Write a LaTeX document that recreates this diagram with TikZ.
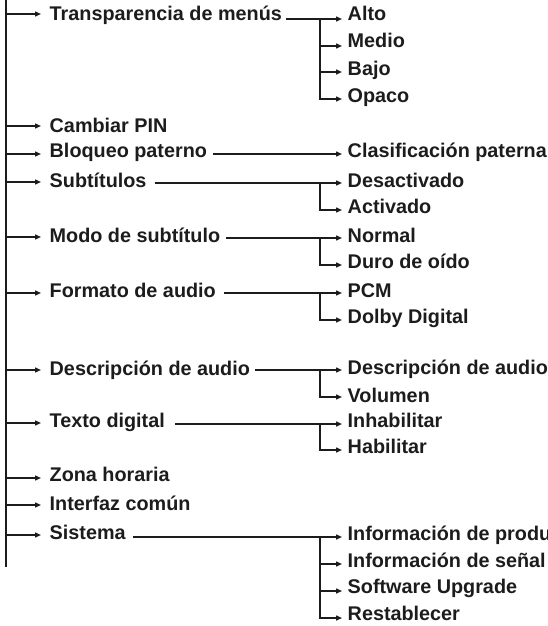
\documentclass[tikz,border=0pt]{standalone}
\usepackage{fontspec}
\setmainfont{Liberation Sans}
\usetikzlibrary{arrows.meta,calc}
\definecolor{ink}{RGB}{28,28,28}
\begin{document}
\begin{tikzpicture}[x=1pt,y=-1pt,
  lbl/.style={anchor=base west, inner sep=0pt, text=ink, font=\fontsize{19.8pt}{22pt}\selectfont\bfseries},
  conn/.style={draw=ink, line width=1.4pt, line join=miter},
  arr/.style={conn, -{Triangle[length=6pt,width=5pt]}},
  trunk/.style={draw=ink, line width=1.9pt}]
\clip (0,0) rectangle (548,626);
% trunk
\coordinate (top) at (6,0);
\coordinate (bot) at (6,567);
\coordinate (bx) at (320,0);
\draw[trunk] (top) -- (bot);

% level 1 nodes
\node[lbl] (n1) at (49.5,21) {Transparencia de menús};
\node[lbl] (n2) at (49.5,132) {Cambiar PIN};
\node[lbl] (n3) at (49.5,157) {Bloqueo paterno};
\node[lbl] (n4) at (49.5,187) {Subtítulos};
\node[lbl] (n5) at (49.5,242) {Modo de subtítulo};
\node[lbl] (n6) at (49.5,297) {Formato de audio};
\node[lbl] (n7) at (49.5,375) {Descripción de audio};
\node[lbl] (n8) at (49.5,427) {Texto digital};
\node[lbl] (n9) at (49.5,481) {Zona horaria};
\node[lbl] (n10) at (49.5,510) {Interfaz común};
\node[lbl] (n11) at (49.5,539) {Sistema};

% level 1 arrow tips
\coordinate (t1) at (41,14);
\coordinate (t2) at (41,126);
\coordinate (t3) at (41,154);
\coordinate (t4) at (41,182);
\coordinate (t5) at (41,237);
\coordinate (t6) at (41,293);
\coordinate (t7) at (41,370);
\coordinate (t8) at (41,423);
\coordinate (t9) at (41,478);
\coordinate (t10) at (41,505);
\coordinate (t11) at (41,535);
\foreach \i in {1,...,11} {\draw[arr] (top |- t\i) -- (t\i);}

% level 2 nodes
\node[lbl] (c11) at (347.5,21) {Alto};
\node[lbl] (c12) at (347.5,48) {Medio};
\node[lbl] (c13) at (347.5,75) {Bajo};
\node[lbl] (c14) at (347.5,102) {Opaco};
\node[lbl] (c31) at (347.5,157) {Clasificación paterna};
\node[lbl] (c41) at (347.5,187) {Desactivado};
\node[lbl] (c42) at (347.5,213) {Activado};
\node[lbl] (c51) at (347.5,242) {Normal};
\node[lbl] (c52) at (347.5,268) {Duro de oído};
\node[lbl] (c61) at (347.5,297) {PCM};
\node[lbl] (c62) at (347.5,323) {Dolby Digital};
\node[lbl] (c71) at (347.5,374) {Descripción de audio};
\node[lbl] (c72) at (347.5,402) {Volumen};
\node[lbl] (c81) at (347.5,427) {Inhabilitar};
\node[lbl] (c82) at (347.5,453) {Habilitar};
\node[lbl] (c111) at (347.5,540) {Información de produ};
\node[lbl] (c112) at (347.5,567) {Información de señal};
\node[lbl] (c113) at (347.5,593) {Software Upgrade};
\node[lbl] (c114) at (347.5,620) {Restablecer};

% level 2 arrow tips
\coordinate (a11) at (342,19);
\coordinate (a12) at (342,46);
\coordinate (a13) at (342,72);
\coordinate (a14) at (342,99);
\coordinate (a31) at (342,154);
\coordinate (a41) at (342,183);
\coordinate (a42) at (342,210);
\coordinate (a51) at (342,238);
\coordinate (a52) at (342,265);
\coordinate (a61) at (342,293);
\coordinate (a62) at (342,320);
\coordinate (a71) at (342,370);
\coordinate (a72) at (342,397);
\coordinate (a81) at (342,424);
\coordinate (a82) at (342,450);
\coordinate (a111) at (342,537);
\coordinate (a112) at (342,564);
\coordinate (a113) at (342,591);
\coordinate (a114) at (342,618);

% connector starts (after parent text)
\coordinate (s1) at ($(n1.base east)+(4,0)$);
\coordinate (s3) at ($(n3.base east)+(6,0)$);
\coordinate (s4) at ($(n4.base east)+(8,0)$);
\coordinate (s5) at ($(n5.base east)+(6,0)$);
\coordinate (s6) at ($(n6.base east)+(8,0)$);
\coordinate (s7) at ($(n7.base east)+(5,0)$);
\coordinate (s8) at ($(n8.base east)+(10,0)$);
\coordinate (s11) at ($(n11.base east)+(7,0)$);

% Transparencia
\draw[arr] (s1 |- a11) -- (a11);
\draw[arr] (bx |- a11) |- (a14);
\draw[arr] (bx |- a12) -- (a12);
\draw[arr] (bx |- a13) -- (a13);
% Bloqueo
\draw[arr] (s3 |- a31) -- (a31);
% Subtitulos
\draw[arr] (s4 |- a41) -- (a41);
\draw[arr] (bx |- a41) |- (a42);
% Modo
\draw[arr] (s5 |- a51) -- (a51);
\draw[arr] (bx |- a51) |- (a52);
% Formato
\draw[arr] (s6 |- a61) -- (a61);
\draw[arr] (bx |- a61) |- (a62);
% Descripcion
\draw[arr] (s7 |- a71) -- (a71);
\draw[arr] (bx |- a71) |- (a72);
% Texto digital
\draw[arr] (s8 |- a81) -- (a81);
\draw[arr] (bx |- a81) |- (a82);
% Sistema
\draw[arr] (s11 |- a111) -- (a111);
\draw[arr] (bx |- a111) |- (a114);
\draw[arr] (bx |- a112) -- (a112);
\draw[arr] (bx |- a113) -- (a113);
\end{tikzpicture}
\end{document}
